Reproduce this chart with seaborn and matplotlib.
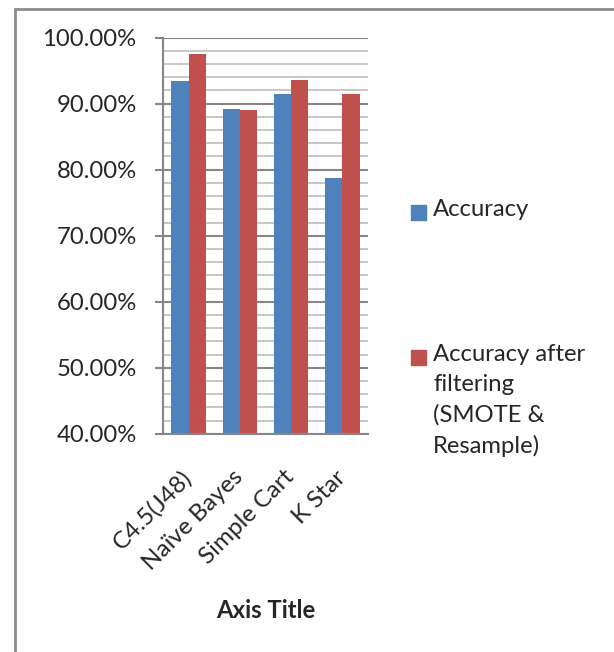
import seaborn as sns
import pandas as pd
import matplotlib.pyplot as plt
from matplotlib.ticker import MultipleLocator, FuncFormatter
from matplotlib.patches import Rectangle
from matplotlib.lines import Line2D

# dati
classifiers = ['C4.5(J48)', 'Naïve Bayes', 'Simple Cart', 'K Star']
accuracy = [0.9344, 0.8920, 0.9147, 0.7874]
accuracy_filtered = [0.9753, 0.8905, 0.9360, 0.9147]
series_names = ['Accuracy', 'Accuracy after\nfiltering\n(SMOTE &\nResample)']

blue = '#4F81BD'
red = '#C0504D'

df = pd.DataFrame({
    'Classifier': classifiers * 2,
    'Value': accuracy + accuracy_filtered,
    'Series': [series_names[0]] * 4 + [series_names[1]] * 4,
})

sns.set_style('white')
plt.rcParams['font.family'] = ['Lato', 'DejaVu Sans']

fig = plt.figure(figsize=(6.14, 6.52), dpi=100)
ax = fig.add_axes([163 / 614, 1 - 433.7 / 652, 205 / 614, 396 / 652])

sns.barplot(data=df, x='Classifier', y='Value', hue='Series', palette=[blue, red],
            saturation=1, width=0.675, gap=0, legend=False, ax=ax, linewidth=0)

ax.set_ylim(0.4, 1.0)
ax.set_xlim(-0.5, 3.5)
ax.yaxis.set_major_locator(MultipleLocator(0.1))
ax.yaxis.set_minor_locator(MultipleLocator(0.02))
ax.yaxis.set_major_formatter(FuncFormatter(lambda v, p: f'{v * 100:.2f}%'))
ax.grid(True, axis='y', which='major', color='#868686', lw=1.5)
ax.grid(True, axis='y', which='minor', color='#BEBEBE', lw=1.2)
ax.set_axisbelow(True)

for s in ['top', 'right']:
    ax.spines[s].set_visible(False)
for s in ['left', 'bottom']:
    ax.spines[s].set_color('#868686')
    ax.spines[s].set_linewidth(1.5)

ax.tick_params(axis='y', which='major', length=6, width=1.5, color='#868686',
               pad=13, labelsize=17.2, left=True)
ax.tick_params(axis='y', which='minor', length=0)
ax.tick_params(axis='x', length=0, labelsize=17.5, pad=29)
plt.setp(ax.get_xticklabels(), rotation=45, ha='right', va='center', rotation_mode='anchor')

ax.set_ylabel('')
ax.set_xlabel('')
fig.text(265.5 / 614, 1 - 610 / 652, 'Axis Title', fontsize=17.2, fontweight='bold',
         ha='center', va='center')

# legenda
colors = [blue, red]
ys = [212, 357]
for c, y, name in zip(colors, ys, series_names):
    fig.add_artist(Rectangle((411 / 614, 1 - (y + 7.5) / 652), 15 / 614, 15 / 652,
                             color=c, transform=fig.transFigure))
    fig.text(433 / 614, 1 - (y - 13) / 652, name, fontsize=17.2, ha='left', va='top',
             linespacing=1.52)

# cornice
fig.add_artist(Line2D([14.5 / 614, 14.5 / 614], [0, 1 - 9 / 652], color='#8C8C8C', lw=2,
                      transform=fig.transFigure))
fig.add_artist(Line2D([14.5 / 614, 1], [1 - 9 / 652, 1 - 9 / 652], color='#8C8C8C', lw=2,
                      transform=fig.transFigure))

plt.savefig('out.png', dpi=100)
